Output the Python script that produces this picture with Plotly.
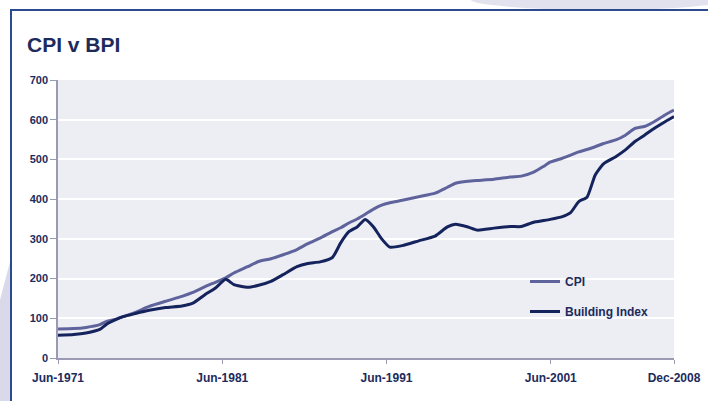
import plotly.graph_objects as go

# ---- data ----
dates = ["1971-06-30", "1972-06-15", "1973-03-15", "1974-01-15", "1974-06-15", "1975-01-15",
         "1975-06-15", "1976-03-15", "1977-01-15", "1978-01-15", "1979-01-15", "1979-09-15",
         "1980-06-15", "1981-01-15", "1981-09-15", "1982-03-15", "1983-01-15", "1983-09-15",
         "1984-06-15", "1985-03-15", "1986-01-15", "1986-09-15", "1987-06-15", "1988-03-15",
         "1988-09-15", "1989-03-15", "1989-09-15", "1990-03-15", "1990-09-15", "1991-03-15",
         "1991-09-15", "1992-06-15", "1993-06-15", "1994-06-15", "1995-03-15", "1995-09-15",
         "1996-06-15", "1997-01-15", "1998-01-15", "1999-01-15", "1999-09-15", "2000-06-15",
         "2001-01-15", "2001-06-15", "2002-03-15", "2002-09-15", "2003-03-15", "2003-09-15",
         "2004-03-15", "2004-09-15", "2005-06-15", "2006-01-15", "2006-08-15", "2007-03-15",
         "2007-10-15", "2008-06-15", "2008-12-31"]

cpi = [73, 74, 77, 84, 92, 98,
       104, 115, 130, 143, 155, 165,
       180, 190, 202, 214, 230, 243,
       250, 260, 273, 288, 302, 318,
       328, 340, 350, 362, 375, 385,
       391, 397, 406, 415, 430, 440,
       445, 447, 450, 456, 458, 468,
       482, 493, 503, 511, 519, 525,
       532, 540, 549, 561, 578, 583,
       595, 612, 624]

bpi = [57, 59, 63, 72, 85, 97,
       104, 112, 120, 127, 131, 138,
       160, 175, 198, 185, 178, 183,
       193, 210, 230, 238, 242, 253,
       290, 318, 330, 349, 330, 300,
       279, 283, 295, 307, 330, 337,
       330, 322, 327, 331, 331, 342,
       346, 349, 356, 366, 394, 405,
       461, 489, 507, 524, 545, 561,
       578, 595, 608]

tick_vals = ["1971-06-30", "1981-06-30", "1991-06-30", "2001-06-30", "2008-12-31"]
tick_text = ["Jun-1971", "Jun-1981", "Jun-1991", "Jun-2001", "Dec-2008"]
y_ticks = [0, 100, 200, 300, 400, 500, 600, 700]

# ---- layout geometry ----
W, H = 708, 401
L, R, T, B = 58, 674, 80, 358


def px(x):
    return (x - L) / (R - L)


def py(y):
    return (B - y) / (B - T)


navy = "#1c2b5c"
fig = go.Figure()
fig.add_trace(go.Scatter(x=dates, y=cpi, mode="lines", name="CPI", legendgroup="a",
                         line=dict(color="#5e639c", width=3, shape="spline", smoothing=0.5)))
fig.add_trace(go.Scatter(x=dates, y=bpi, mode="lines", name="Building Index", legendgroup="b",
                         line=dict(color="#15235d", width=3, shape="spline", smoothing=0.5)))

shapes = [
    # top-right lavender swoosh
    dict(type="circle", xref="paper", yref="paper", layer="below",
         x0=px(470), x1=px(730), y0=py(10), y1=py(-12),
         fillcolor="#e2e2ef", line=dict(width=0)),
    # left lavender wedge
    dict(type="path", xref="paper", yref="paper", layer="below",
         path=f"M {px(0)},{py(300)} L {px(10)},{py(262)} L {px(10)},{py(405)} L {px(0)},{py(405)} Z",
         fillcolor="#d9d9e9", line=dict(width=0)),
    # frame
    dict(type="path", xref="paper", yref="paper", layer="above",
         path=f"M {px(11)},{py(405)} L {px(11)},{py(10)} L {px(712)},{py(10)}",
         line=dict(color="#2a4b90", width=2)),
]

fig.update_layout(
    width=W, height=H,
    margin=dict(l=L, r=W - R, t=T, b=H - B, autoexpand=False),
    paper_bgcolor="white",
    plot_bgcolor="#ededf4",
    shapes=shapes,
    title=dict(text="<b>CPI v BPI</b>", xref="container", yref="container",
               x=27 / W, xanchor="left", y=1 - 45 / H, yanchor="middle",
               font=dict(family="Liberation Sans", size=21, color=navy)),
    showlegend=True,
    legend=dict(x=px(525), y=py(267), xanchor="left", yanchor="top",
                bgcolor="rgba(0,0,0,0)", tracegroupgap=11, traceorder="grouped",
                font=dict(family="Liberation Sans", size=12, color=navy, weight="bold")),
    xaxis=dict(type="date", range=["1971-06-30", "2008-12-31"], automargin=False,
               tickvals=tick_vals, ticktext=tick_text,
               showgrid=False, zeroline=False,
               showline=True, linecolor="#9a9ab2", linewidth=2,
               ticks="outside", ticklen=4, tickcolor="#9a9ab2",
               ticklabelstandoff=4,
               tickfont=dict(family="Liberation Sans", size=12, color=navy, weight="bold")),
    yaxis=dict(range=[0, 700], tickvals=y_ticks, automargin=False,
               showgrid=True, gridcolor="white", gridwidth=2, zeroline=False,
               showline=True, linecolor="#9a9ab2", linewidth=1.5,
               ticks="outside", ticklen=6, tickcolor="#9a9ab2",
               tickfont=dict(family="Liberation Sans", size=11, color=navy, weight="bold")),
)

fig.write_html("out.html")
